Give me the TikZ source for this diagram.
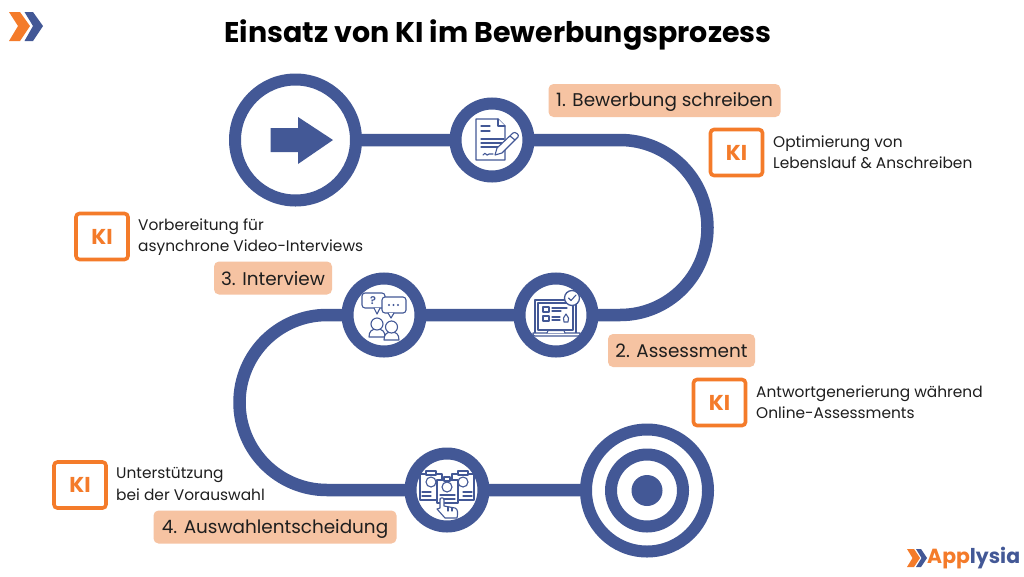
\documentclass[tikz,border=0pt]{standalone}
\usepackage{fontspec}
\setmainfont{Poppins}
\newfontfamily\popsemi{Poppins SemiBold}
\definecolor{navy}{HTML}{435896}
\definecolor{orng}{HTML}{F47B2A}
\definecolor{peach}{HTML}{F6C3A2}
\definecolor{ink}{HTML}{1E1E1E}
\tikzset{
  ring/.style={circle,draw=navy,line width=12pt,fill=white,inner sep=0pt,minimum size=#1},
  pathline/.style={draw=navy,line width=12.5pt},
  icon/.style={draw=navy,line width=1.1pt,line join=round,line cap=round,fill=white},
  step label/.style={fill=peach,rounded corners=5pt,minimum height=33pt,inner sep=0pt,anchor=center},
  step text/.style={inner sep=0pt,text=ink,font=\fontsize{18.4}{20}\selectfont},
  kibox/.style={draw=orng,line width=3.6pt,rounded corners=3.5pt,minimum width=#1,minimum height=46pt,inner sep=0pt,text=orng,font=\fontsize{21.5}{22}\selectfont\bfseries},
  desc/.style={anchor=west,align=left,text=ink,font=\fontsize{15.4}{21.5}\selectfont,inner sep=0pt},
}
\begin{document}
\begin{tikzpicture}[x=1pt,y=-1pt]
\useasboundingbox (0,0) rectangle (1024,576);
\fill[white] (0,0) rectangle (1024,576);
% route
\coordinate (pa) at (295.5,140);
\coordinate (pb) at (620,140);
\coordinate (pd) at (327,315);
\coordinate (pf) at (647,490);
\draw[pathline] (pa) -- (pb) arc[start angle=90,end angle=-90,radius=87.5pt]
  -- (pd) arc[start angle=90,end angle=270,radius=87.5pt] -- (pf);
% start
\node[ring=121pt] (start) at (295.5,140) {};
\fill[navy] (270.5,128) -- (298,128) -- (298,117) -- (333,140) -- (298,164) -- (298,152) -- (270.5,152) -- cycle;
% stations
\node[ring=73pt] (s1) at (492,140) {};
\node[ring=73pt] (s2) at (556,315) {};
\node[ring=73pt] (s3) at (384,315) {};
\node[ring=73pt] (s4) at (447,490) {};
% target
\node[ring=122pt] (goal) at (647,490.5) {};
\node[ring=72pt] (goalmid) at (647,490.5) {};
\node[circle,fill=navy,minimum size=31pt,inner sep=0pt] (goalcore) at (647,490.5) {};
% icon 1: document and pen
\begin{scope}[shift={(492,140)}]
\draw[icon] (-16,-21) -- (6,-21) -- (13,-14) -- (13,20) -- (-16,20) -- cycle;
\draw[icon] (6,-21) -- (6,-14) -- (13,-14);
\foreach \yy/\xe in {-14/-2,-9/-2,-1/12,3/12,7/9}{\draw[icon] (-11,\yy) -- (\xe,\yy);}
\draw[icon] (-9,15) .. controls (-6,10) and (-6,18) .. (-3,14) -- (1,14);
\draw[icon] (3,15) -- (5,8) -- (21,-7) .. controls (23,-9) and (28,-5) .. (26,-3) -- (10,13) -- cycle;
\draw[icon] (18,-4) -- (23,0);
\end{scope}
% icon 2: laptop
\begin{scope}[shift={(556,315)}]
\draw[icon] (-21,18) -- (-21,-15) -- (20,-15) -- (20,18);
\draw[icon] (-18,15) -- (-18,-12) -- (17,-12) -- (17,15) -- cycle;
\draw[icon] (-23,18) -- (24,18) -- (24,19) .. controls (24,20) and (23,21) .. (22,21) -- (-21,21) .. controls (-22,21) and (-23,20) .. (-23,19) -- cycle;
\draw[icon] (-9,18) -- (-8,15.5) -- (8,15.5) -- (9,18);
\draw[icon] (-13,-8) rectangle (-7,-3);
\draw[icon] (-13,1) rectangle (-7,6);
\foreach \yy/\xe in {-7/11,-4/5,2/4,5/4}{\draw[icon] (-4,\yy) -- (\xe,\yy);}
\draw[icon] (8,7) -- (7.5,3) -- (10,-1) -- (12.5,3) -- (12,7) -- cycle;
\node[circle,draw=navy,line width=1.3pt,fill=white,minimum size=15pt,inner sep=0pt] (chk) at (16,-17) {};
\draw[icon] (12.5,-17) -- (15,-14.5) -- (20,-20);
\end{scope}
% icon 3: people with speech bubbles
\begin{scope}[shift={(384,315)}]
\draw[icon,rounded corners=3pt] (-22,-22) rectangle (1,-7);
\draw[icon] (-10,-7) -- (-7,-1) -- (-4,-7);
\node[text=navy,font=\popsemi\fontsize{11}{12}\selectfont,inner sep=0pt] (qm) at (-11,-14) {?};
\draw[icon,rounded corners=3pt] (-2,-18) rectangle (22,-2);
\draw[icon,fill=white] (4,-2) -- (7,3) -- (10,-2);
\foreach \xx in {5,9.5,14}{\fill[navy] (\xx,-10) circle (1.1pt);}
\draw[icon] (-15,22) .. controls (-15,16) and (-12,14) .. (-7,14) .. controls (-2,14) and (1,16) .. (1,22) -- cycle;
\draw[icon] (-7,9) circle (6pt);
\draw[icon] (0,25) .. controls (0,19) and (3,17) .. (7.5,17) .. controls (12,17) and (15,19) .. (15,25) -- cycle;
\draw[icon] (7.5,12) circle (6pt);
\end{scope}
% icon 4: candidate cards and hand
\begin{scope}[shift={(447,490)}]
\foreach \xx in {-16,16}{
  \draw[icon] (\xx-11,-16) rectangle (\xx+11,10);
  \draw[icon] (\xx-5,-19) rectangle (\xx+5,-15);
  \draw[icon] (\xx,-8) circle (5pt);
}
\foreach \yy in {2,6}{\draw[icon] (-25,\yy) -- (-16,\yy); \draw[icon] (16,\yy) -- (25,\yy);}
\draw[icon] (-10,-10) rectangle (11,13);
\draw[icon] (-3,-13) rectangle (3,-9);
\draw[icon] (0,-3) circle (5pt);
\foreach \yy in {5,9}{\draw[icon] (-7,\yy) -- (8,\yy);}
\draw[icon] (-7,10) .. controls (-7,7) and (-3,7) .. (-3,10) -- (-3,16) -- (8,18) .. controls (11,19) and (11,23) .. (10,28) -- (-2,28) -- (-10,19) -- (-7,18) -- cycle;
\draw[icon] (1,17) -- (1,21);
\draw[icon] (5,18) -- (5,21);
\end{scope}
% title
\node[inner sep=0pt,font=\fontsize{28.5}{30}\selectfont\bfseries,text=black] (title) at (498,35.5) {Einsatz von KI im Bewerbungsprozess};
% step labels
\node[step label,minimum width=232pt] (l1) at (664.5,100.5) {};
\node[step label,minimum width=147pt] (l2) at (681.5,350.5) {};
\node[step label,minimum width=118pt] (l3) at (273,278) {};
\node[step label,minimum width=243pt] (l4) at (275,527) {};
\node[step text] (t1) at (664.5,102) {1. Bewerbung schreiben};
\node[step text] (t2) at (681.5,351) {2. Assessment};
\node[step text] (t3) at (273,278.5) {3. Interview};
\node[step text] (t4) at (275,528.5) {4. Auswahlentscheidung};
% KI boxes
\node[kibox=52pt] (k1) at (736.5,152.5) {KI};
\node[kibox=52pt] (k2) at (719.5,402.5) {KI};
\node[kibox=52pt] (k3) at (102,236.5) {KI};
\node[kibox=52pt] (k4) at (80,485) {KI};
\node[desc] (d1) at (773,152) {Optimierung von\\Lebenslauf \& Anschreiben};
\node[desc] (d2) at (756,402) {Antwortgenerierung während\\Online-Assessments};
\node[desc] (d3) at (138,237) {Vorbereitung für\\asynchrone Video-Interviews};
\node[desc] (d4) at (116,484) {Unterstützung\\bei der Vorauswahl};
% logo top left
\fill[orng] (9,12) -- (20,12) -- (30,26) -- (20,41) -- (9,41) -- (18,26) -- cycle;
\fill[navy] (24.5,12) -- (33,12) -- (43,26) -- (33,41) -- (24.5,41) -- (33,26) -- cycle;
% logo bottom right
\fill[orng] (907,549) -- (914,549) -- (920,558) -- (914,567) -- (907,567) -- (912.5,558) -- cycle;
\fill[navy] (916,549) -- (921,549) -- (927,558) -- (921,567) -- (916,567) -- (921.5,558) -- cycle;
\node[anchor=west,inner sep=0pt,font=\fontsize{20.4}{24}\selectfont\bfseries] (brand) at (927,558) {\textcolor{orng}{App}\textcolor{navy}{lysia}};
\end{tikzpicture}
\end{document}
